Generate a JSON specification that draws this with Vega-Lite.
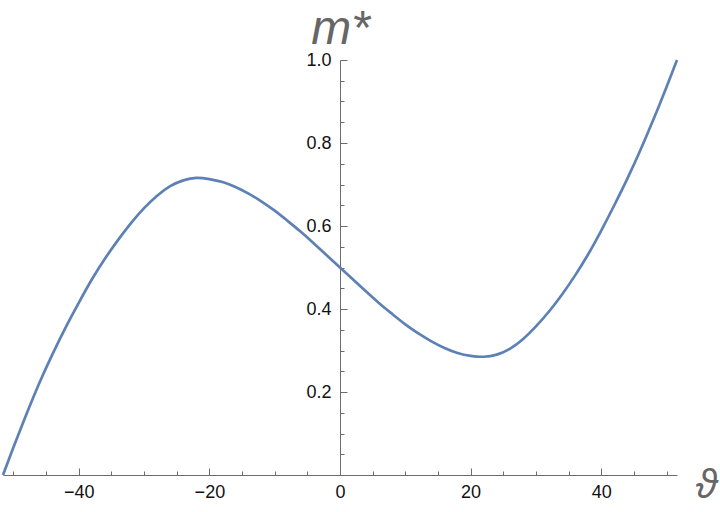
{
  "$schema": "https://vega.github.io/schema/vega-lite/v6.json",
  "width": 674,
  "height": 415,
  "autosize": {"type": "none"},
  "padding": {"left": 3, "top": 60, "right": 43, "bottom": 37},
  "background": "white",
  "config": {
    "view": {"stroke": null},
    "axis": {
      "grid": false,
      "domainColor": "#6b6b6b",
      "tickColor": "#6b6b6b",
      "domainWidth": 1,
      "tickWidth": 1,
      "labelColor": "#111111",
      "labelFont": "Liberation Sans",
      "labelFontSize": 18,
      "labelOverlap": false,
      "labelFlush": false,
      "titleColor": "#666666",
      "titleFont": "Liberation Sans, DejaVu Sans",
      "titleFontStyle": "italic",
      "titleFontWeight": "normal"
    }
  },
  "data": {
    "values": [
      {"theta": -51.6, "m": 0.000},
      {"theta": -50, "m": 0.067},
      {"theta": -48, "m": 0.147},
      {"theta": -46, "m": 0.223},
      {"theta": -44, "m": 0.292},
      {"theta": -42, "m": 0.356},
      {"theta": -40, "m": 0.415},
      {"theta": -38, "m": 0.471},
      {"theta": -36, "m": 0.521},
      {"theta": -34, "m": 0.566},
      {"theta": -32, "m": 0.607},
      {"theta": -30, "m": 0.643},
      {"theta": -28, "m": 0.673},
      {"theta": -26, "m": 0.696},
      {"theta": -24, "m": 0.710},
      {"theta": -22, "m": 0.716},
      {"theta": -20, "m": 0.713},
      {"theta": -18, "m": 0.706},
      {"theta": -16, "m": 0.694},
      {"theta": -14, "m": 0.678},
      {"theta": -12, "m": 0.659},
      {"theta": -10, "m": 0.637},
      {"theta": -8, "m": 0.612},
      {"theta": -6, "m": 0.586},
      {"theta": -4, "m": 0.558},
      {"theta": -2, "m": 0.529},
      {"theta": 0, "m": 0.500},
      {"theta": 2, "m": 0.471},
      {"theta": 4, "m": 0.442},
      {"theta": 6, "m": 0.414},
      {"theta": 8, "m": 0.388},
      {"theta": 10, "m": 0.363},
      {"theta": 12, "m": 0.341},
      {"theta": 14, "m": 0.322},
      {"theta": 16, "m": 0.306},
      {"theta": 18, "m": 0.294},
      {"theta": 20, "m": 0.287},
      {"theta": 22, "m": 0.285},
      {"theta": 24, "m": 0.290},
      {"theta": 26, "m": 0.304},
      {"theta": 28, "m": 0.327},
      {"theta": 30, "m": 0.358},
      {"theta": 32, "m": 0.394},
      {"theta": 34, "m": 0.435},
      {"theta": 36, "m": 0.481},
      {"theta": 38, "m": 0.532},
      {"theta": 40, "m": 0.589},
      {"theta": 42, "m": 0.650},
      {"theta": 44, "m": 0.714},
      {"theta": 46, "m": 0.783},
      {"theta": 48, "m": 0.857},
      {"theta": 50, "m": 0.935},
      {"theta": 51.6, "m": 1.000}
    ]
  },
  "mark": {"type": "line", "color": "#5E81B5", "strokeWidth": 2.7, "interpolate": "natural", "clip": false},
  "encoding": {
    "x": {
      "field": "theta",
      "type": "quantitative",
      "scale": {"domain": [-51.6, 51.6], "nice": false, "zero": false},
      "axis": {
        "orient": "bottom",
        "values": [-50, -45, -40, -35, -30, -25, -20, -15, -10, -5, 0, 5, 10, 15, 20, 25, 30, 35, 40, 45, 50],
        "labelExpr": "datum.value % 20 == 0 ? format(datum.value, 'd') : ''",
        "tickSize": {"condition": {"test": "datum.value % 20 == 0", "value": -7}, "value": -4},
        "labelPadding": 15,
        "title": "ϑ",
        "titleFontSize": 40,
        "titleAngle": 0,
        "titleAlign": "center",
        "titleBaseline": "alphabetic",
        "titleX": 703,
        "titleY": 22
      }
    },
    "y": {
      "field": "m",
      "type": "quantitative",
      "scale": {"domain": [0, 1], "nice": false, "zero": false},
      "axis": {
        "orient": "left",
        "offset": -337,
        "values": [0.05, 0.1, 0.15, 0.2, 0.25, 0.3, 0.35, 0.4, 0.45, 0.5, 0.55, 0.6, 0.65, 0.7, 0.75, 0.8, 0.85, 0.9, 0.95, 1.0],
        "labelExpr": "abs(datum.value * 5 - round(datum.value * 5)) < 0.001 ? format(datum.value, '.1f') : ''",
        "tickSize": {"condition": {"test": "abs(datum.value * 5 - round(datum.value * 5)) < 0.001", "value": -7}, "value": -4},
        "labelPadding": 16,
        "title": "m*",
        "titleFontSize": 48,
        "titleAngle": 0,
        "titleAlign": "center",
        "titleBaseline": "alphabetic",
        "titleX": 0,
        "titleY": -17
      }
    }
  }
}
